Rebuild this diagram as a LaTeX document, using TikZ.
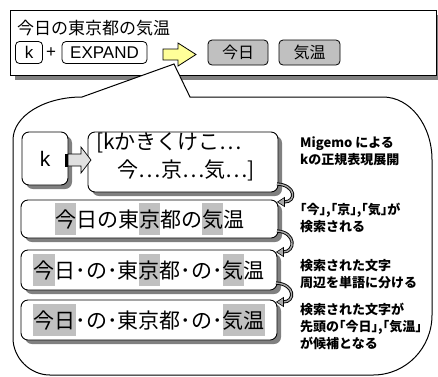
\documentclass[tikz,border=0pt]{standalone}
\usepackage{fontspec}
\setmainfont{Liberation Sans}
\newfontfamily\jp{Noto Sans CJK JP}
\usetikzlibrary{calc}
\definecolor{hlgray}{HTML}{C0C0C0}
\definecolor{btngray}{HTML}{C0C0C0}
\definecolor{dropgray}{rgb}{0.5,0.5,0.5}
\definecolor{arrowyellow}{HTML}{FFFF99}
\definecolor{arrowgray}{HTML}{E0E0E0}
\definecolor{loopgray}{HTML}{A8A8A8}
\newcommand\hlc[1]{{\setlength{\fboxsep}{0pt}\colorbox{hlgray}{\rule[-8bp]{0pt}{32bp}#1}}}
\newcommand\looparrow[2]{%
  \draw[line width=3.2bp, black] (#1) .. controls ($(#1)+(19,1)$) and ($(#2)+(13,0)$) .. (#2);
  \draw[line width=1.4bp, loopgray] (#1) .. controls ($(#1)+(19,1)$) and ($(#2)+(13,0)$) .. (#2);
  \draw[fill=loopgray, line width=0.6bp, line join=miter] ($(#2)+(0.5,-4.5)$) -- ($(#2)+(-6.5,0)$) -- ($(#2)+(0.5,4.5)$) -- cycle;
}
\newcommand\dropshadow[2]{%
  \fill[dropgray] ($(#1.north east)+(0,#2)$) rectangle ($(#1.south east)+(#2,#2)$);
  \fill[dropgray] ($(#1.south west)+(#2,0)$) rectangle ($(#1.south east)+(#2,#2)$);
  \draw[line width=0.9bp] (#1.north west) rectangle (#1.south east);
}
\begin{document}
\begin{tikzpicture}[x=1bp,y=-1bp,
  panel/.style={draw, line width=0.9bp, fill=white, inner sep=0pt, outer sep=0pt},
  stepbox/.style={panel, rounded corners=7bp, font=\jp\fontsize{21bp}{24bp}\selectfont},
  keycap/.style={draw, line width=0.8bp, fill=white, rounded corners=4bp, inner sep=0pt, minimum height=22bp, font=\fontsize{17bp}{20bp}\selectfont},
  button/.style={draw, line width=0.8bp, fill=btngray, rounded corners=4bp, inner sep=0pt, minimum height=25bp, font=\jp\fontsize{16bp}{19bp}\selectfont},
  note/.style={anchor=west, align=left, inner sep=0pt, font=\jp\bfseries\fontsize{13bp}{17bp}\selectfont},
  linetext/.style={inner sep=0pt, font=\jp\fontsize{21bp}{24bp}\selectfont}
]
\useasboundingbox (0,0) rectangle (438,376);

% top panel
\node[panel, minimum width=426bp, minimum height=65bp] (top) at (223,42.5) {};
\dropshadow{top}{5}
\node[anchor=west, inner sep=0pt, font=\jp\fontsize{17bp}{20bp}\selectfont] (title) at (17,28.5) {今日の東京都の気温};
\node[keycap, minimum width=27bp] (kkey) at (29,52.5) {k};
\node[inner sep=0pt, font=\fontsize{17bp}{20bp}\selectfont] (plus) at (51,53) {+};
\node[keycap, minimum width=85bp] (expand) at (104.5,52.5) {EXPAND};
\node[button, minimum width=60bp] (btoday) at (238,52.5) {今日};
\node[button, minimum width=61bp] (btemp) at (309.5,52.5) {気温};

% callout
\draw[line width=1bp, fill=white] (82,97) -- (174,64) -- (190,97) -- (383,97)
  .. controls (410,97) and (432,125) .. (432,160) -- (432,315)
  .. controls (432,348) and (406,375) .. (373,375) -- (50,375)
  .. controls (30,375) and (13,358) .. (13,338) -- (13,140)
  .. controls (13,116) and (44,97) .. (82,97) -- cycle;

% yellow arrow
\draw[fill=arrowyellow, line width=0.8bp, line join=miter] (163,49) -- (178,49) -- (178,43) -- (196,54.5) -- (178,66) -- (178,60) -- (163,60) -- cycle;

% step shadows (drawn first, rounded)
\fill[dropgray, rounded corners=7bp] (26,136) rectangle (72,189);
\fill[dropgray, rounded corners=7bp] (92,136) rectangle (282,196);
\fill[dropgray, rounded corners=7bp] (25,204) rectangle (282,242);
\fill[dropgray, rounded corners=7bp] (25,254) rectangle (281,294);
\fill[dropgray, rounded corners=7bp] (25,304) rectangle (281,344);

% step 1
\node[stepbox, minimum width=46bp, minimum height=53bp] (kbox) at (45,158.5) {\normalfont\fontsize{21bp}{24bp}\selectfont k};
\node[stepbox, minimum width=190bp, minimum height=60bp] (expbox) at (183,162) {};
\node[linetext, anchor=west] (expl1) at (96,143) {[kかきくけこ…};
\node[linetext, anchor=east] (expl2) at (255,170) {今…京…気…]};
\fill[black] (65,153.5) rectangle (68,166.5);
\draw[fill=arrowgray, line width=0.7bp, line join=miter] (68,154) -- (81,154) -- (81,147) -- (91,160) -- (81,173) -- (81,166) -- (68,166) -- cycle;

% steps 2-4
\node[stepbox, minimum width=257bp, minimum height=38bp] (s2) at (149.5,219) {\hlc{今}日の東\hlc{京}都の\hlc{気}温};
\node[stepbox, minimum width=256bp, minimum height=40bp] (s3) at (149,270) {\hlc{今}日･の･東\hlc{京}都･の･\hlc{気}温};
\node[stepbox, minimum width=256bp, minimum height=40bp] (s4) at (149,320) {\hlc{今日}･の･東京都･の･\hlc{気温}};

% loop arrows
\coordinate (l1s) at ($(expbox.south east)+(-1,-8)$);
\coordinate (l1e) at ($(s2.north east)+(6,2)$);
\coordinate (l2s) at ($(s2.south east)+(-1,-7)$);
\coordinate (l2e) at ($(s3.north east)+(6,2)$);
\coordinate (l3s) at ($(s3.south east)+(-1,-7)$);
\coordinate (l3e) at ($(s4.north east)+(6,2)$);
\looparrow{l1s}{l1e}
\looparrow{l2s}{l2e}
\looparrow{l3s}{l3e}

% notes
\node[note] (n1) at (300,151) {Migemo による\\kの正規表現展開};
\node[note] (n2) at (300,217.5) {｢今｣,｢京｣,｢気｣が\\検索される};
\node[note] (n3) at (300,274.5) {検索された文字\\周辺を単語に分ける};
\node[note] (n4) at (300,326.5) {検索された文字が\\先頭の｢今日｣,｢気温｣\\が候補となる};
\end{tikzpicture}
\end{document}
